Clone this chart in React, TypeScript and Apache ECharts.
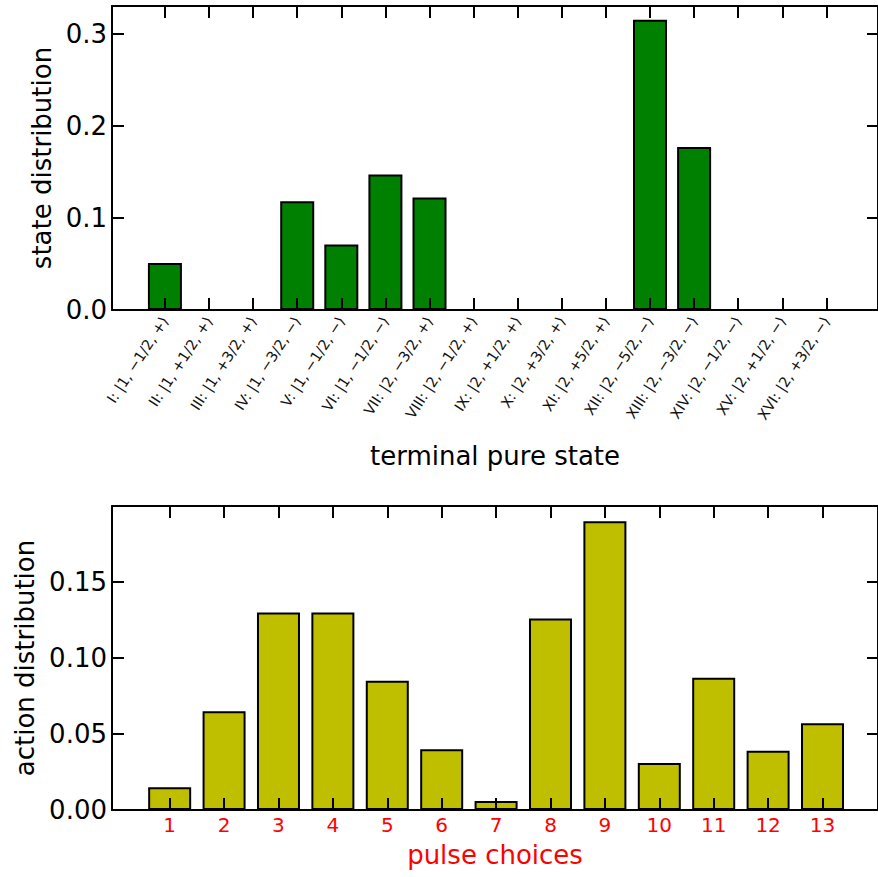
import React, { useEffect, useRef } from "react";
import * as echarts from "echarts";

// Terminal pure states (top panel categories)
const stateLabels: string[] = [
  "I: |1, −1/2, +⟩",
  "II: |1, +1/2, +⟩",
  "III: |1, +3/2, +⟩",
  "IV: |1, −3/2, −⟩",
  "V: |1, −1/2, −⟩",
  "VI: |1, −1/2, −⟩",
  "VII: |2, −3/2, +⟩",
  "VIII: |2, −1/2, +⟩",
  "IX: |2, +1/2, +⟩",
  "X: |2, +3/2, +⟩",
  "XI: |2, +5/2, +⟩",
  "XII: |2, −5/2, −⟩",
  "XIII: |2, −3/2, −⟩",
  "XIV: |2, −1/2, −⟩",
  "XV: |2, +1/2, −⟩",
  "XVI: |2, +3/2, −⟩",
];
const stateDist: number[] = [
  0.051, 0, 0, 0.118, 0.071, 0.147, 0.122, 0, 0, 0, 0, 0.315, 0.177, 0, 0, 0,
];

// Pulse choices (bottom panel)
const pulseLabels: string[] = ["1", "2", "3", "4", "5", "6", "7", "8", "9", "10", "11", "12", "13"];
const actionDist: number[] = [
  0.015, 0.065, 0.13, 0.13, 0.085, 0.04, 0.006, 0.126, 0.19, 0.031, 0.087, 0.039, 0.057,
];

const stateTicks: number[] = [0, 0.1, 0.2, 0.3];
const actionTicks: number[] = [0, 0.05, 0.1, 0.15];

const FONT = "'DejaVu Sans', 'Liberation Sans', Arial, sans-serif";

export default function App() {
  const ref = useRef<HTMLDivElement>(null);

  useEffect(() => {
    if (!ref.current) return;
    const chart = echarts.init(ref.current, undefined, { renderer: "svg" });

    const statePos = stateLabels.map((_, i) => i + 1);
    const pulsePos = pulseLabels.map((_, i) => i + 1);

    const line = { show: true, onZero: false, lineStyle: { color: "#000", width: 2 } };
    const tick = (len: number, vals: number[]) => ({
      show: true,
      inside: true,
      length: len,
      customValues: vals,
      lineStyle: { color: "#000", width: 2 },
    });

    const option: any = {
      animation: false,
      grid: [
        { left: 112, top: 6, width: 767, height: 304 },
        { left: 112, top: 506, width: 767, height: 304 },
      ],
      xAxis: [
        {
          gridIndex: 0,
          type: "value",
          position: "bottom",
          min: -0.2,
          max: 17.17,
          z: 10,
          axisLine: line,
          axisTick: tick(12, statePos),
          splitLine: { show: false },
          axisLabel: {
            customValues: statePos,
            rotate: 57,
            margin: 8,
            fontSize: 14.5,
            color: "#111",
            fontFamily: FONT,
            formatter: (v: number) => stateLabels[Math.round(v) - 1] ?? "",
          },
          name: "terminal pure state",
          nameLocation: "middle",
          nameGap: 133,
          nameTextStyle: { fontSize: 26, color: "#000", fontFamily: FONT },
        },
        {
          gridIndex: 0,
          type: "value",
          position: "top",
          min: -0.2,
          max: 17.17,
          z: 10,
          axisLine: line,
          axisTick: tick(12, statePos),
          splitLine: { show: false },
          axisLabel: { show: false },
        },
        {
          gridIndex: 1,
          type: "value",
          position: "bottom",
          min: -0.06,
          max: 14.02,
          z: 10,
          axisLine: line,
          axisTick: tick(12, pulsePos),
          splitLine: { show: false },
          axisLabel: {
            customValues: pulsePos,
            margin: 5,
            fontSize: 20,
            color: "#ff0000",
            fontFamily: FONT,
            formatter: (v: number) => pulseLabels[Math.round(v) - 1] ?? "",
          },
          name: "pulse choices",
          nameLocation: "middle",
          nameGap: 32,
          nameTextStyle: { fontSize: 26, color: "#ff0000", fontFamily: FONT },
        },
        {
          gridIndex: 1,
          type: "value",
          position: "top",
          min: -0.06,
          max: 14.02,
          z: 10,
          axisLine: line,
          axisTick: tick(12, pulsePos),
          splitLine: { show: false },
          axisLabel: { show: false },
        },
      ],
      yAxis: [
        {
          gridIndex: 0,
          type: "value",
          position: "left",
          min: 0,
          max: 0.33,
          z: 10,
          axisLine: line,
          axisTick: tick(12, stateTicks),
          splitLine: { show: false },
          axisLabel: {
            customValues: stateTicks,
            margin: 5,
            fontSize: 26,
            color: "#000",
            fontFamily: FONT,
            formatter: (v: number) => v.toFixed(1),
          },
          name: "state distribution",
          nameLocation: "middle",
          nameGap: 56,
          nameTextStyle: { fontSize: 26, color: "#000", fontFamily: FONT },
        },
        {
          gridIndex: 0,
          type: "value",
          position: "right",
          min: 0,
          max: 0.33,
          z: 10,
          axisLine: line,
          axisTick: tick(11, stateTicks),
          splitLine: { show: false },
          axisLabel: { show: false },
        },
        {
          gridIndex: 1,
          type: "value",
          position: "left",
          min: 0,
          max: 0.2,
          z: 10,
          axisLine: line,
          axisTick: tick(12, actionTicks),
          splitLine: { show: false },
          axisLabel: {
            customValues: actionTicks,
            margin: 5,
            fontSize: 26,
            color: "#000",
            fontFamily: FONT,
            formatter: (v: number) => v.toFixed(2),
          },
          name: "action distribution",
          nameLocation: "middle",
          nameGap: 72,
          nameTextStyle: { fontSize: 26, color: "#000", fontFamily: FONT },
        },
        {
          gridIndex: 1,
          type: "value",
          position: "right",
          min: 0,
          max: 0.2,
          z: 10,
          axisLine: line,
          axisTick: tick(11, actionTicks),
          splitLine: { show: false },
          axisLabel: { show: false },
        },
      ],
      series: [
        {
          type: "bar",
          xAxisIndex: 0,
          yAxisIndex: 0,
          barWidth: 34,
          data: stateDist.map((v, i) => [i + 1, v]),
          itemStyle: { color: "#008000", borderColor: "#000", borderWidth: 2 },
        },
        {
          type: "bar",
          xAxisIndex: 2,
          yAxisIndex: 2,
          barWidth: 43,
          data: actionDist.map((v, i) => [i + 1, v]),
          itemStyle: { color: "#bfbf00", borderColor: "#000", borderWidth: 2 },
        },
      ],
    };

    chart.setOption(option);
    return () => chart.dispose();
  }, []);

  return (
    <div
      ref={ref}
      style={{ position: "fixed", left: 0, top: 0, width: 878, height: 877, background: "#fff" }}
    />
  );
}
